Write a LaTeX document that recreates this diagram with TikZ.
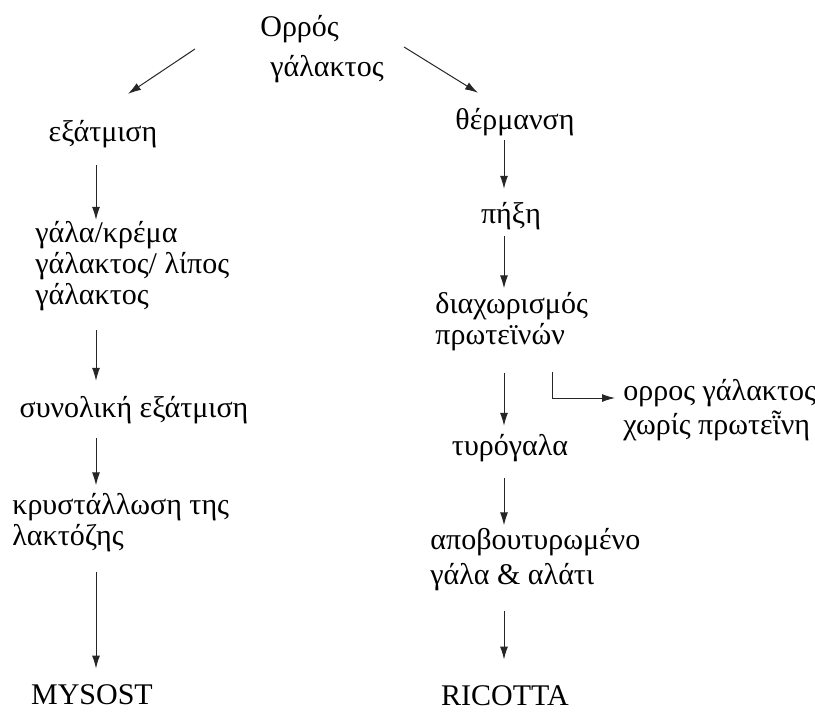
\documentclass[tikz,border=0pt]{standalone}
\usepackage{fontspec}
\setmainfont{Liberation Serif}
\usetikzlibrary{arrows.meta}
\begin{document}
\begin{tikzpicture}[x=0.5pt, y=-0.5pt,
  every node/.style={font=\fontsize{15}{15.5}\selectfont, inner sep=0pt},
  flow/.style={-{Latex[length=6.5pt,width=4pt]}, line width=0.5pt, black!85,
    shorten <=7pt, shorten >=4pt}]
  \useasboundingbox (0,0) rectangle (815,713);
  \coordinate (lc) at (96,0);
  \coordinate (rc) at (504,0);
  \coordinate (bend) at (552,398);
  % top
  \node[align=left, font=\fontsize{15}{20}\selectfont] (whey) at (322,49) {Ορρός\\\hspace{5pt}γάλακτος};
  % left branch
  \node (evap) at (103,134) {εξάτμιση};
  \node[align=left, anchor=west] (cream) at (35,266) {γάλα/κρέμα\\γάλακτος/ λίπος\\γάλακτος};
  \node (total) at (134,410) {συνολική εξάτμιση};
  \node[align=left, anchor=west] (cryst) at (12,523) {κρυστάλλωση της\\λακτόζης};
  \node (mysost) at (92,695) {MYSOST};
  % right branch
  \node (heat) at (515,122) {θέρμανση};
  \node (coag) at (511,216) {πήξη};
  \node[align=left, anchor=west] (sep) at (435,322) {διαχωρισμός\\πρωτεϊνών};
  \node[align=left, anchor=west, font=\fontsize{15}{17}\selectfont] (wheyfree) at (623,410) {ορρος γάλακτος\\χωρίς πρωτεῗνη};
  \node (buttermilk) at (510,448) {τυρόγαλα};
  \node[align=left, anchor=west, font=\fontsize{15}{17.5}\selectfont] (skim) at (430,560) {αποβουτυρωμένο\\γάλα \& αλάτι};
  \node (ricotta) at (505,696) {RICOTTA};
  % connectors
  \draw[flow, shorten <=0pt, shorten >=0pt] ([shift={(-65,0)}]whey.west) -- ([shift={(25,-26)}]evap.north);
  \draw[flow, shorten <=0pt, shorten >=0pt] ([shift={(20,-2)}]whey.east) -- ([shift={(-37,-15)}]heat.north);
  \draw[flow, shorten <=8.5pt, shorten >=0.5pt] (evap.south -| lc) -- (cream.north -| lc);
  \draw[flow, shorten <=9.5pt, shorten >=7.5pt] (cream.south -| lc) -- (total.north -| lc);
  \draw[flow] (total.south -| lc) -- (cryst.north -| lc);
  \draw[flow, shorten <=9.5pt, shorten >=8pt] (cryst.south -| lc) -- (mysost.north -| lc);
  \draw[flow, shorten <=2pt, shorten >=6.5pt] (heat.south -| rc) -- (coag.north -| rc);
  \draw[flow, shorten <=3pt, shorten >=2pt] (coag.south -| rc) -- (sep.north -| rc);
  \draw[flow, shorten <=10.5pt] (sep.south -| rc) -- (buttermilk.north -| rc);
  \draw[flow, shorten <=10pt] (sep.south -| bend) -- (bend) -- (wheyfree.west |- bend);
  \draw[flow, shorten <=8pt, shorten >=1.5pt] (buttermilk.south -| rc) -- (skim.north -| rc);
  \draw[flow, shorten <=9.5pt, shorten >=13pt] (skim.south -| rc) -- (ricotta.north -| rc);
\end{tikzpicture}
\end{document}
